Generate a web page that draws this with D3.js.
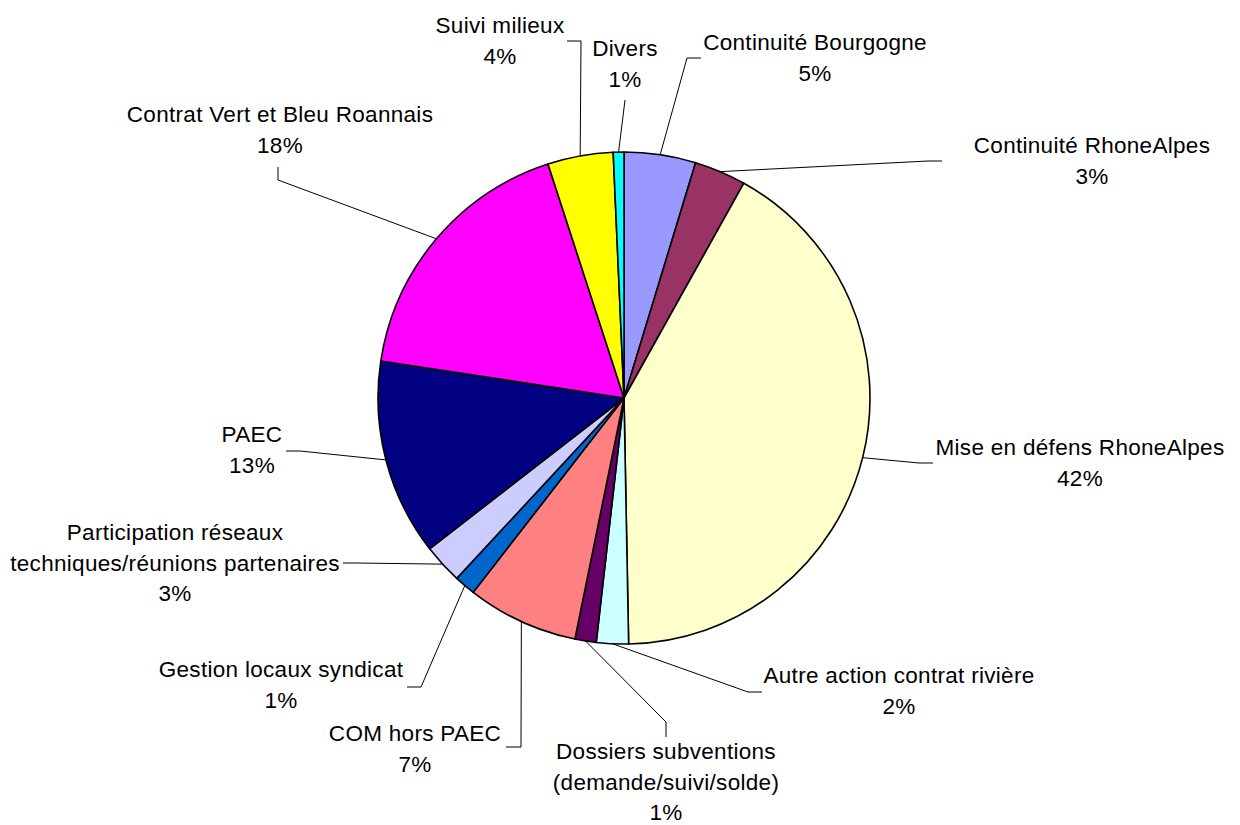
<!DOCTYPE html>
<html><head><meta charset="utf-8">
<script src="https://cdn.jsdelivr.net/npm/d3@7/dist/d3.min.js"></script>
<style>body{margin:0;background:#fff}svg{display:block}</style>
</head><body>
<svg id="chart" width="1240" height="825"></svg>
<script>
// ---- data ----
const categories = [
  "Continuité Bourgogne",
  "Continuité RhoneAlpes",
  "Mise en défens RhoneAlpes",
  "Autre action contrat rivière",
  "Dossiers subventions (demande/suivi/solde)",
  "COM hors PAEC",
  "Gestion locaux syndicat",
  "Participation réseaux techniques/réunions partenaires",
  "PAEC",
  "Contrat Vert et Bleu Roannais",
  "Suivi milieux",
  "Divers"
];
const values = [4.7, 3.4, 41.6, 2.1, 1.4, 7.3, 1.4, 2.6, 12.9, 17.6, 4.3, 0.7];
const labelLines = [
  ["Continuité Bourgogne"],
  ["Continuité RhoneAlpes"],
  ["Mise en défens RhoneAlpes"],
  ["Autre action contrat rivière"],
  ["Dossiers subventions", "(demande/suivi/solde)"],
  ["COM hors PAEC"],
  ["Gestion locaux syndicat"],
  ["Participation réseaux", "techniques/réunions partenaires"],
  ["PAEC"],
  ["Contrat Vert et Bleu Roannais"],
  ["Suivi milieux"],
  ["Divers"]
];
const colors = ["#9999FF","#993366","#FFFFCC","#CCFFFF","#660066","#FF8080",
                "#0066CC","#CCCCFF","#000080","#FF00FF","#FFFF00","#00FFFF"];

// ---- layout (positions of labels and leader-line bends) ----
const cx = 624, cy = 398, R = 246;
const fontSize = 22.5, lineH = 30.5;
const labelLayout = [
  {x: 815, y: 50,  pts: [[687,58],[701,58]]},
  {x: 1092, y: 153, pts: [[928,161],[942,161]]},
  {x: 1080, y: 455, pts: [[919,463],[933,463]]},
  {x: 899, y: 683, pts: [[748,692],[762,692]]},
  {x: 666, y: 759, pts: [[666,722],[666,737]]},
  {x: 415, y: 741, pts: [[521,747],[506,747]]},
  {x: 281, y: 677, pts: [[421,687],[407,687]]},
  {x: 175, y: 540, pts: [[356,563],[343,563]]},
  {x: 252, y: 442, pts: [[300,451],[286,451]]},
  {x: 280, y: 122, pts: [[278,180],[278,167]]},
  {x: 500, y: 33,  pts: [[581,41],[567,41]]},
  {x: 625, y: 56,  pts: [[625,100]]}
];

const svg = d3.select("#chart");
const total = d3.sum(values);
const data = values.map((v, i) => ({name: categories[i], value: v, i}));

const pie = d3.pie().value(d => d.value).sort(null);
const arcs = pie(data);
const arc = d3.arc().innerRadius(0).outerRadius(R);
const edgeArc = d3.arc().innerRadius(R).outerRadius(R);

const g = svg.append("g").attr("transform", `translate(${cx},${cy})`);
g.selectAll("path.slice").data(arcs).join("path")
  .attr("class", "slice")
  .attr("d", arc)
  .attr("fill", d => colors[d.data.i])
  .attr("stroke", "#000")
  .attr("stroke-width", 1.6)
  .attr("stroke-linejoin", "round");

// leader lines
const line = d3.line();
svg.append("g").selectAll("path.leader").data(arcs).join("path")
  .attr("class", "leader")
  .attr("d", d => {
    const c = edgeArc.centroid(d);
    const start = [cx + c[0], cy + c[1]];
    return line([start, ...labelLayout[d.data.i].pts]);
  })
  .attr("fill", "none")
  .attr("stroke", "#000")
  .attr("stroke-width", 1);

// labels
const fmt = v => Math.round(v / total * 100 + 1e-9) + "%";
const lab = svg.append("g")
  .attr("font-family", "'Liberation Sans', Arial, sans-serif")
  .attr("font-size", fontSize)
  .attr("letter-spacing", 0.3)
  .attr("fill", "#000")
  .attr("text-anchor", "middle");
lab.selectAll("text").data(arcs).join("text")
  .attr("x", d => labelLayout[d.data.i].x)
  .attr("y", d => labelLayout[d.data.i].y)
  .each(function(d) {
    const t = d3.select(this);
    const lines = [...labelLines[d.data.i], fmt(d.data.value)];
    lines.forEach((s, k) => {
      t.append("tspan")
        .attr("x", labelLayout[d.data.i].x)
        .attr("dy", k === 0 ? 0 : lineH)
        .text(s);
    });
  });
</script>
</body></html>
